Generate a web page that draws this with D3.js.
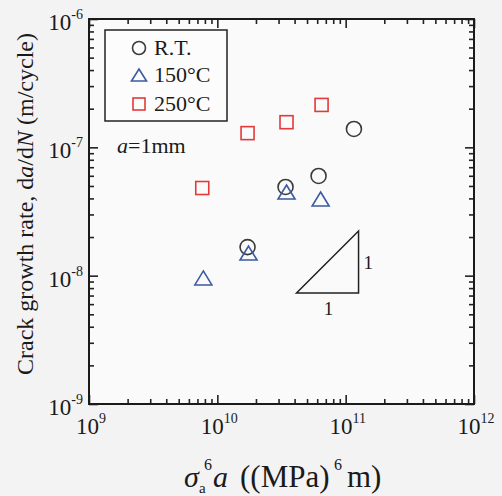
<!DOCTYPE html>
<html><head><meta charset="utf-8">
<script src="https://cdn.jsdelivr.net/npm/d3@7"></script>
<style>
html,body{margin:0;padding:0;background:#f3f3f3;}
svg{display:block;}
text{font-family:"Liberation Serif","Times New Roman",serif;fill:#1a1a1a;}
</style></head>
<body>
<svg id="c" width="502" height="496"></svg>
<script>
// ---- data ----
const seriesNames = ["R.T.", "150°C", "250°C"];
const rtX   = [1.16e11, 6.15e10, 3.40e10, 1.72e10];
const rtY   = [1.39e-7, 5.98e-8, 4.91e-8, 1.67e-8];
const t150X = [3.46e10, 6.38e10, 1.75e10, 7.78e9];
const t150Y = [4.49e-8, 3.96e-8, 1.50e-8, 9.6e-9];
const t250X = [7.63e9, 1.72e10, 3.46e10, 6.49e10];
const t250Y = [4.82e-8, 1.29e-7, 1.57e-7, 2.14e-7];
const xTickExp = [9, 10, 11, 12];
const yTickExp = [-9, -8, -7, -6];
const slopeX = [4.14e10, 1.26e11];
const slopeY = [7.33e-9, 2.23e-8];

const svg = d3.select("#c");
const L = 89, R = 474, T = 19, B = 404;
const x = d3.scaleLog().domain([1e9, 1e12]).range([L, R]);
const y = d3.scaleLog().domain([1e-9, 1e-6]).range([B, T]);

// plot background
svg.append("rect").attr("x", L).attr("y", T).attr("width", R - L).attr("height", B - T)
  .attr("fill", "#fafafa");

// minor/major tick values
const minorX = [], minorY = [];
for (let e = 9; e < 12; e++) for (let m = 2; m <= 9; m++) minorX.push(m * Math.pow(10, e));
for (let e = -9; e < -6; e++) for (let m = 2; m <= 9; m++) minorY.push(m * Math.pow(10, e));
const majX = xTickExp.map(e => Math.pow(10, e));
const majY = yTickExp.map(e => Math.pow(10, e));

function addAxis(gen, tr, vals, size) {
  const g = svg.append("g").attr("transform", tr)
    .call(gen.tickValues(vals).tickSize(size).tickFormat(""));
  g.select(".domain").remove();
  g.selectAll("line").attr("stroke", "#222").attr("stroke-width", 1.6);
}
addAxis(d3.axisBottom(x), `translate(0,${B})`, minorX, -5);
addAxis(d3.axisBottom(x), `translate(0,${B})`, majX, -9);
addAxis(d3.axisTop(x), `translate(0,${T})`, minorX, -5);
addAxis(d3.axisTop(x), `translate(0,${T})`, majX, -9);
addAxis(d3.axisLeft(y), `translate(${L},0)`, minorY, -5);
addAxis(d3.axisLeft(y), `translate(${L},0)`, majY, -9);
addAxis(d3.axisRight(y), `translate(${R},0)`, minorY, -5);
addAxis(d3.axisRight(y), `translate(${R},0)`, majY, -9);

// frame
svg.append("rect").attr("x", L).attr("y", T).attr("width", R - L).attr("height", B - T)
  .attr("fill", "none").attr("stroke", "#1a1a1a").attr("stroke-width", 2);

// tick labels
xTickExp.forEach(e => {
  const t = svg.append("text").attr("x", x(Math.pow(10, e)) + 2).attr("y", B + 30)
    .attr("text-anchor", "middle").attr("font-size", 23);
  t.append("tspan").text("10");
  t.append("tspan").attr("dy", -11).attr("font-size", 14).text(e);
});
yTickExp.forEach(e => {
  const t = svg.append("text").attr("x", 83).attr("y", y(Math.pow(10, e)) + 11)
    .attr("text-anchor", "end").attr("font-size", 23);
  t.append("tspan").text("10");
  t.append("tspan").attr("dy", -11).attr("font-size", 14).text(e);
});

// x axis title
function txt(xp, yp, s, size, italic) {
  return svg.append("text").attr("x", xp).attr("y", yp).attr("font-size", size)
    .attr("font-style", italic ? "italic" : "normal").text(s);
}
txt(184, 487, "σ", 30, true);
txt(199, 493, "a", 15, false);
txt(204, 470, "6", 16, false);
txt(213, 487, "a", 30, true);
txt(240, 487, "((MPa)", 31, false);
txt(334, 470, "6", 16, false);
txt(347, 487, "m)", 31, false);

// y axis title
const yt = svg.append("text").attr("transform", "translate(33,204) rotate(-90)")
  .attr("text-anchor", "middle").attr("font-size", 24);
yt.append("tspan").text("Crack growth rate, d");
yt.append("tspan").attr("font-style", "italic").text("a");
yt.append("tspan").text("/d");
yt.append("tspan").attr("font-style", "italic").text("N");
yt.append("tspan").text(" (m/cycle)");

// markers
const cRT = "#3a3a3a", c150 = "#3c5aa0", c250 = "#e23a3a";
const triPath = (w, h) => `M0,${-h/2}L${w/2},${h/2}L${-w/2},${h/2}Z`;
function drawCircles(xs, ys) {
  svg.append("g").selectAll("circle").data(xs).join("circle")
    .attr("cx", (d) => x(d)).attr("cy", (d, i) => y(ys[i])).attr("r", 7.5)
    .attr("fill", "none").attr("stroke", cRT).attr("stroke-width", 1.6);
}
function drawTris(xs, ys) {
  svg.append("g").selectAll("path").data(xs).join("path")
    .attr("transform", (d, i) => `translate(${x(d)},${y(ys[i])})`)
    .attr("d", triPath(17, 14))
    .attr("fill", "none").attr("stroke", c150).attr("stroke-width", 1.6);
}
function drawSquares(xs, ys) {
  svg.append("g").selectAll("rect").data(xs).join("rect")
    .attr("x", d => x(d) - 6.5).attr("y", (d, i) => y(ys[i]) - 6.5)
    .attr("width", 13).attr("height", 13)
    .attr("fill", "none").attr("stroke", c250).attr("stroke-width", 1.6);
}
drawCircles(rtX, rtY);
drawTris(t150X, t150Y);
drawSquares(t250X, t250Y);

// legend
svg.append("rect").attr("x", 105).attr("y", 30).attr("width", 122).attr("height", 91)
  .attr("fill", "#fcfcfc").attr("stroke", "#222").attr("stroke-width", 1.5);
const ly = [48, 75, 104];
svg.append("circle").attr("cx", 139).attr("cy", ly[0]).attr("r", 6.5)
  .attr("fill", "none").attr("stroke", cRT).attr("stroke-width", 1.6);
svg.append("path").attr("transform", `translate(139,${ly[1]})`).attr("d", triPath(15, 12))
  .attr("fill", "none").attr("stroke", c150).attr("stroke-width", 1.6);
svg.append("rect").attr("x", 133).attr("y", ly[2] - 6).attr("width", 12).attr("height", 12)
  .attr("fill", "none").attr("stroke", c250).attr("stroke-width", 1.6);
seriesNames.forEach((s, i) => {
  svg.append("text").attr("x", 154).attr("y", ly[i] + 7).attr("font-size", 22).text(s);
});

// a=1mm
const at = svg.append("text").attr("x", 117).attr("y", 153).attr("font-size", 22);
at.append("tspan").attr("font-style", "italic").text("a");
at.append("tspan").text("=1mm");

// slope triangle
const sx0 = x(slopeX[0]), sx1 = x(slopeX[1]), sy0 = y(slopeY[0]), sy1 = y(slopeY[1]);
svg.append("path").attr("d", `M${sx0},${sy0}L${sx1},${sy0}L${sx1},${sy1}Z`)
  .attr("fill", "none").attr("stroke", "#222").attr("stroke-width", 1.5);
svg.append("text").attr("x", sx1 + 5).attr("y", (sy0 + sy1) / 2 + 7).attr("font-size", 19).text("1");
svg.append("text").attr("x", (sx0 + sx1) / 2 + 1).attr("y", sy0 + 22).attr("font-size", 19)
  .attr("text-anchor", "middle").text("1");
</script>
</body></html>
